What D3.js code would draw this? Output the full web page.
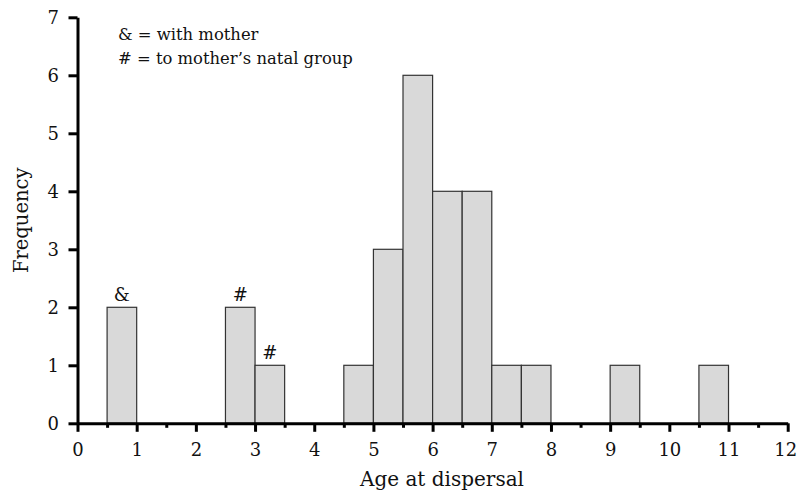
<!DOCTYPE html>
<html>
<head>
<meta charset="utf-8">
<script src="https://cdn.jsdelivr.net/npm/d3@7"></script>
<style>
  body { margin: 0; background: #fff; }
  svg text { font-family: "DejaVu Serif", "Liberation Serif", serif; fill: #111; }
  .axis path, .axis line { stroke: #000; stroke-width: 3px; }
</style>
</head>
<body>
<svg width="798" height="491"></svg>
<script>
// histogram bins (age at dispersal, years) and their frequencies
var binStart = [0.5, 2.5, 3.0, 4.5, 5.0, 5.5, 6.0, 6.5, 7.0, 7.5, 9.0, 10.5];
var binEnd   = [1.0, 3.0, 3.5, 5.0, 5.5, 6.0, 6.5, 7.0, 7.5, 8.0, 9.5, 11.0];
var counts   = [2, 2, 1, 1, 3, 6, 4, 4, 1, 1, 1, 1];

// bins marked with a symbol
var markBin = [0, 1, 2];
var markSymbol = ["&", "#", "#"];

var xTicks = [0, 1, 2, 3, 4, 5, 6, 7, 8, 9, 10, 11, 12];
var xMinorTicks = [0.5, 1.5, 2.5, 3.5, 4.5, 5.5, 6.5, 7.5, 8.5, 9.5, 10.5, 11.5];
var yTicks = [0, 1, 2, 3, 4, 5, 6, 7];

var legendLines = ["& = with mother", "# = to mother\u2019s natal group"];

var svg = d3.select("svg"),
    margin = {top: 17.3, right: 10.3, bottom: 67.7, left: 77.5},
    width = svg.attr("width") - margin.left - margin.right,
    height = svg.attr("height") - margin.top - margin.bottom,
    g = svg.append("g").attr("transform", "translate(" + margin.left + "," + margin.top + ")");

var x = d3.scaleLinear().domain([0, 12]).range([0, width]);
var y = d3.scaleLinear().domain([0, 7]).range([height, 0]);

var bins = counts.map(function(c, i) { return {x0: binStart[i], x1: binEnd[i], n: c}; });

// bars
g.append("g")
  .selectAll("rect")
  .data(bins)
  .enter().append("rect")
    .attr("x", function(d) { return x(d.x0); })
    .attr("y", function(d) { return y(d.n); })
    .attr("width", function(d) { return x(d.x1) - x(d.x0); })
    .attr("height", function(d) { return y(0) - y(d.n); })
    .attr("fill", "#d9d9d9")
    .attr("stroke", "#333")
    .attr("stroke-width", 1.2);

// symbols above bars
g.append("g")
  .selectAll("text")
  .data(markBin)
  .enter().append("text")
    .attr("x", function(d) { return x((bins[d].x0 + bins[d].x1) / 2); })
    .attr("y", function(d) { return y(bins[d].n) - 6; })
    .attr("text-anchor", "middle")
    .style("font-size", "18px")
    .text(function(d, i) { return markSymbol[i]; });

// x axis: minor half ticks, then major ticks with labels
g.append("g")
  .attr("class", "axis")
  .attr("transform", "translate(0," + height + ")")
  .call(d3.axisBottom(x).tickValues(xMinorTicks).tickSize(4.5).tickFormat(""))
  .call(function(a) { a.select(".domain").remove(); });

var xAxis = g.append("g")
  .attr("class", "axis")
  .attr("transform", "translate(0," + height + ")")
  .call(d3.axisBottom(x).tickValues(xTicks).tickSize(8.5).tickSizeOuter(0).tickPadding(11.5));

// keep the last label inside the page
xAxis.selectAll(".tick text").filter(function(d) { return d === 12; }).attr("x", -2.5);

g.append("g")
  .attr("class", "axis")
  .call(d3.axisLeft(y).tickValues(yTicks).tickFormat(d3.format("d")).tickSize(9).tickSizeOuter(0).tickPadding(9.5));

g.selectAll(".tick text").style("font-size", "18px").style("fill", "#111");

// legend
svg.append("g")
  .selectAll("text")
  .data(legendLines)
  .enter().append("text")
    .attr("x", 118)
    .attr("y", function(d, i) { return 40 + i * 24; })
    .style("font-size", "16.4px")
    .text(function(d) { return d; });

// axis titles
svg.append("text")
  .attr("transform", "translate(442,485.5)")
  .attr("text-anchor", "middle")
  .style("font-size", "20px")
  .text("Age at dispersal");

svg.append("text")
  .attr("transform", "translate(27.7," + (margin.top + height / 2) + ") rotate(-90)")
  .attr("text-anchor", "middle")
  .style("font-size", "19.5px")
  .text("Frequency");
</script>
</body>
</html>
